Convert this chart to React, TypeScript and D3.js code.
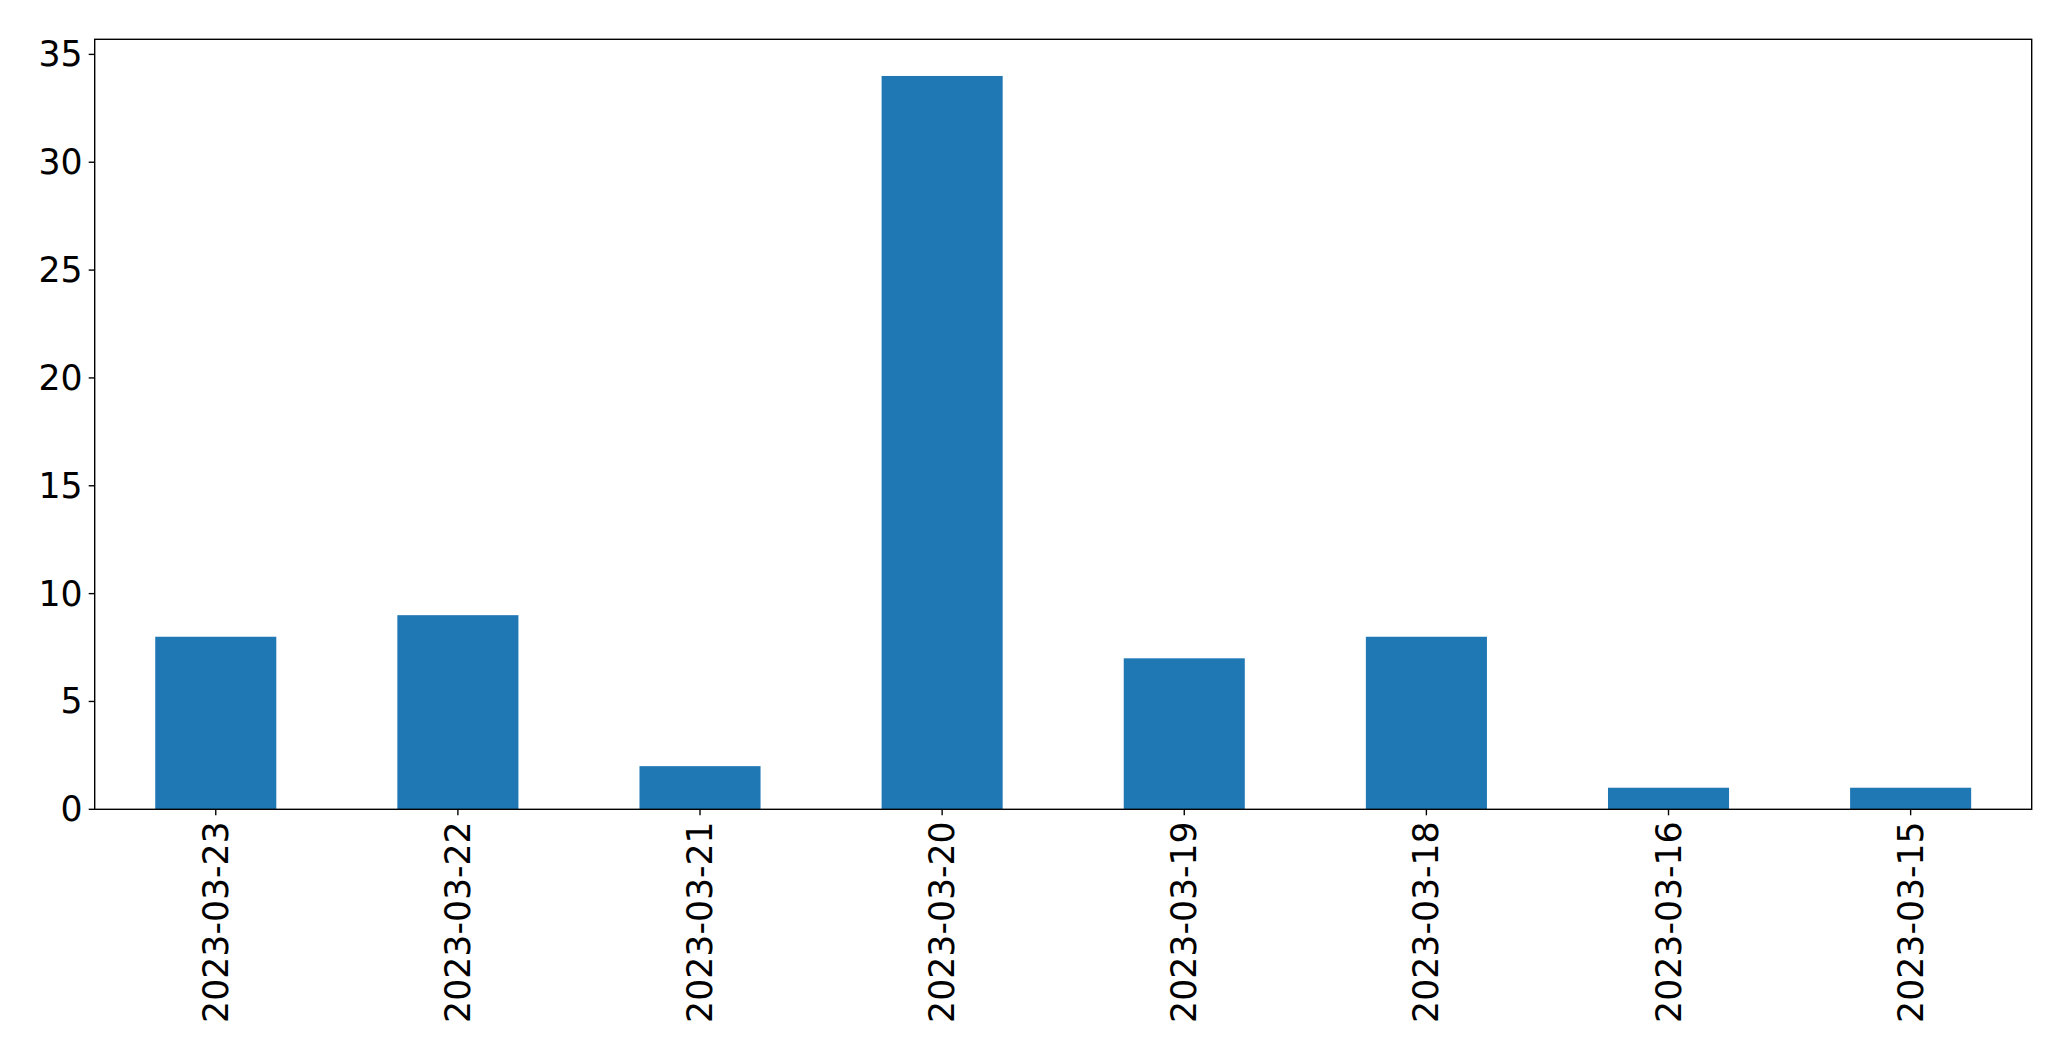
import React from "react";
import * as d3 from "d3";

const categories = ["2023-03-23", "2023-03-22", "2023-03-21", "2023-03-20", "2023-03-19", "2023-03-18", "2023-03-16", "2023-03-15"];
const values = [8, 9, 2, 34, 7, 8, 1, 1];
const yTicks = [0, 5, 10, 15, 20, 25, 30, 35];

const W = 2071;
const H = 1061;
const left = 94.7;
const right = 2031.7;
const top = 39.3;
const bottom = 809.3;
const fontSize = 34.7;
const tickLen = 6;
const pad = 6;

export default function App() {
  const x = d3.scaleLinear().domain([-0.5, categories.length - 0.5]).range([left, right]);
  const yMax = d3.max(values)! * 1.05;
  const y = d3.scaleLinear().domain([0, yMax]).range([bottom, top]);
  const barW = 0.5;
  const font = "DejaVu Sans, sans-serif";

  return (
    <svg width={W} height={H} style={{ position: "absolute", left: 0, top: 0, background: "#fff" }} fontFamily={font}>
      <rect x={0} y={0} width={W} height={H} fill="#fff" />
      {values.map((v, i) => (
        <rect
          key={i}
          x={x(i - barW / 2)}
          y={y(v)}
          width={x(i + barW / 2) - x(i - barW / 2)}
          height={y(0) - y(v)}
          fill="#1f77b4"
        />
      ))}
      <rect x={left} y={top} width={right - left} height={bottom - top} fill="none" stroke="#000" strokeWidth={1.39} />
      {yTicks.map((t) => (
        <g key={t}>
          <line x1={left - tickLen} x2={left} y1={y(t)} y2={y(t)} stroke="#000" strokeWidth={1.39} />
          <text x={left - tickLen - pad} y={y(t)} textAnchor="end" dominantBaseline="central" fontSize={fontSize} fill="#000">
            {t}
          </text>
        </g>
      ))}
      {categories.map((c, i) => (
        <g key={c}>
          <line x1={x(i)} x2={x(i)} y1={bottom} y2={bottom + tickLen} stroke="#000" strokeWidth={1.39} />
          <text
            transform={`translate(${x(i)},${bottom + tickLen + pad}) rotate(-90)`}
            textAnchor="end"
            dominantBaseline="central"
            fontSize={fontSize}
            fill="#000"
          >
            {c}
          </text>
        </g>
      ))}
    </svg>
  );
}
